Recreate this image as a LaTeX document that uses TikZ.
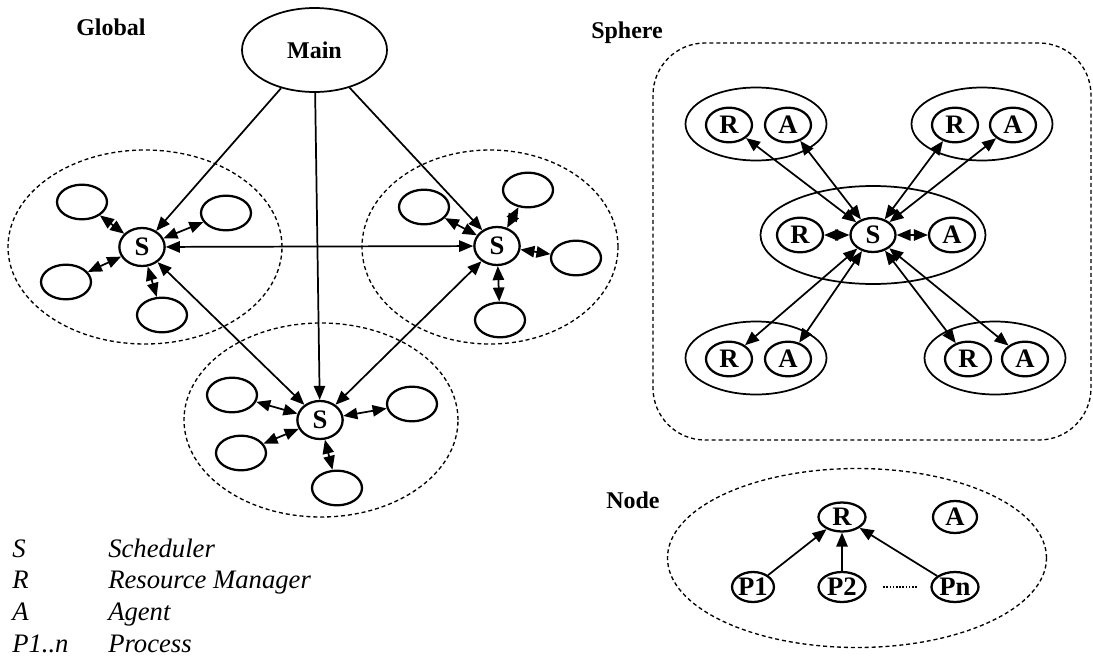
\documentclass[tikz,border=0pt]{standalone}
\usepackage{fontspec}
\setmainfont{Liberation Serif}
\usetikzlibrary{arrows.meta,shapes.geometric}

\begin{document}
\begin{tikzpicture}[x=0.75pt,y=0.75pt,yscale=-1,xscale=1,
  lbl/.style={font=\fontsize{18}{20}\selectfont\bfseries, inner sep=0pt, anchor=base west},
  key/.style={font=\fontsize{20}{22}\selectfont\itshape, inner sep=0pt, anchor=base west},
  proc/.style={ellipse, draw, line width=1.7pt, inner sep=0pt, font=\fontsize{20}{22}\selectfont\bfseries},
  sched/.style={proc, minimum width=34pt, minimum height=28.5pt},
  leaf/.style={proc, minimum width=37.5pt, minimum height=26pt},
  ra/.style={proc, minimum width=34.5pt, minimum height=26pt},
  grp/.style={ellipse, draw, line width=1.3pt, inner sep=0pt},
  zone/.style={ellipse, draw, line width=1pt, dash pattern=on 3pt off 2.2pt, inner sep=0pt},
  link/.style={line width=1.3pt, -{Triangle[length=10.5pt,width=8.5pt]}},
  dlink/.style={line width=1.3pt, {Triangle[length=10.5pt,width=8.5pt]}-{Triangle[length=10.5pt,width=8.5pt]}}
]
\useasboundingbox (0,0) rectangle (1093,657);

%%% Global
% Text Node
\node[lbl] (tglobal) at (76,35) {Global};
%Shape: Ellipse
\node[proc, line width=1.3pt, font=\fontsize{18}{20}\selectfont\bfseries, minimum width=108.75pt, minimum height=63pt] (main) at (314.5,50) {Main};
%Dashed zones
\node[zone, minimum width=205.5pt, minimum height=145.5pt] (zoneL) at (145,247) {};
\node[zone, minimum width=192pt, minimum height=145.5pt] (zoneR) at (490,247) {};
\node[zone, minimum width=205.5pt, minimum height=145.5pt] (zoneB) at (321,420) {};
%Schedulers
\node[sched] (sL) at (142,247) {S};
\node[sched] (sR) at (497,246) {S};
\node[sched] (sB) at (320,420) {S};
%Left zone
\node[leaf] (l1) at (82,202) {};
\node[leaf] (l2) at (226,213) {};
\node[leaf] (l3) at (66,282) {};
\node[leaf] (l4) at (162,315) {};
%Right zone
\node[leaf] (r1) at (424,207) {};
\node[leaf] (r2) at (528,190) {};
\node[leaf] (r3) at (576,258) {};
\node[leaf] (r4) at (500,320) {};
%Bottom zone
\node[leaf] (b1) at (232,395) {};
\node[leaf] (b2) at (412,404) {};
\node[leaf] (b3) at (241,453) {};
\node[leaf] (b4) at (337,488) {};

\draw[link] (main) -- (sL);
\draw[link] (main) -- (sB);
\draw[link] (main) -- (sR);
\draw[dlink] (sL) -- (sR);
\draw[dlink] (sL) -- (sB);
\draw[dlink] (sR) -- (sB);
\foreach \n in {l1,l2,l3,l4} \draw[dlink] (sL) -- (\n);
\foreach \n in {r1,r2,r3,r4} \draw[dlink] (sR) -- (\n);
\foreach \n in {b1,b2,b3,b4} \draw[dlink] (sB) -- (\n);

%%% Sphere
% Text Node
\node[lbl] (tsphere) at (591,38) {Sphere};
%Shape: Rounded Rectangle
\draw[line width=1pt, dash pattern=on 3pt off 2.2pt, rounded corners=39pt] (653,43) rectangle (1091,440);
%Groups
\node[grp, minimum width=168.75pt, minimum height=73.5pt] (gC) at (873,235) {};
\node[grp, minimum width=105.75pt, minimum height=54.75pt] (gTL) at (756,124) {};
\node[grp, minimum width=105.75pt, minimum height=54.75pt] (gTR) at (982,124) {};
\node[grp, minimum width=105.75pt, minimum height=54.75pt] (gBL) at (756,358) {};
\node[grp, minimum width=105.75pt, minimum height=54.75pt] (gBR) at (995,358) {};
\node[ra, minimum width=33.75pt, minimum height=25.5pt] (s2) at (873,235) {S};
\node[ra] (rC) at (800,235) {R};
\node[ra] (aC) at (952,235) {A};
\node[ra] (rTL) at (729,125) {R};
\node[ra] (aTL) at (788,125) {A};
\node[ra] (rTR) at (955,125) {R};
\node[ra] (aTR) at (1013,125) {A};
\node[ra] (rBL) at (729,359) {R};
\node[ra] (aBL) at (788,359) {A};
\node[ra] (rBR) at (968,359) {R};
\node[ra] (aBR) at (1025,359) {A};

\foreach \n in {rC,aC,rTL,aTL,rTR,aTR,rBL,aBL,rBR,aBR} \draw[dlink] (s2) -- (\n);

%%% Node
% Text Node
\node[lbl] (tnode) at (606,508) {Node};
\node[zone, minimum width=284.25pt, minimum height=134.25pt] (zoneN) at (857,558) {};
\node[proc, minimum width=35.25pt, minimum height=21.75pt] (rN) at (842,517) {R};
\node[proc, minimum width=33pt, minimum height=24pt] (aN) at (955,517) {A};
\node[proc, minimum width=28pt, minimum height=22.5pt] (p1) at (753,587) {P1};
\node[proc, minimum width=35.25pt, minimum height=22.5pt] (p2) at (842,587) {P2};
\node[proc, minimum width=35.25pt, minimum height=22.5pt] (pn) at (955,587) {Pn};

\draw[link] (p1) -- (rN);
\draw[link] (p2) -- (rN);
\draw[link] (pn) -- (rN);
\draw[line width=1.8pt, dash pattern=on 1.2pt off 1.2pt, shorten <=12.4pt, shorten >=9.4pt] (p2) -- (pn);

%%% Legend
\node[key] (kS) at (12,557) {S};
\node[key] (kSt) at (108,557) {Scheduler};
\node[key] (kR) at (12,588) {R};
\node[key] (kRt) at (108,588) {Resource Manager};
\node[key] (kA) at (12,620) {A};
\node[key] (kAt) at (108,620) {Agent};
\node[key] (kP) at (12,652) {P1..n};
\node[key] (kPt) at (108,652) {Process};
\end{tikzpicture}
\end{document}
